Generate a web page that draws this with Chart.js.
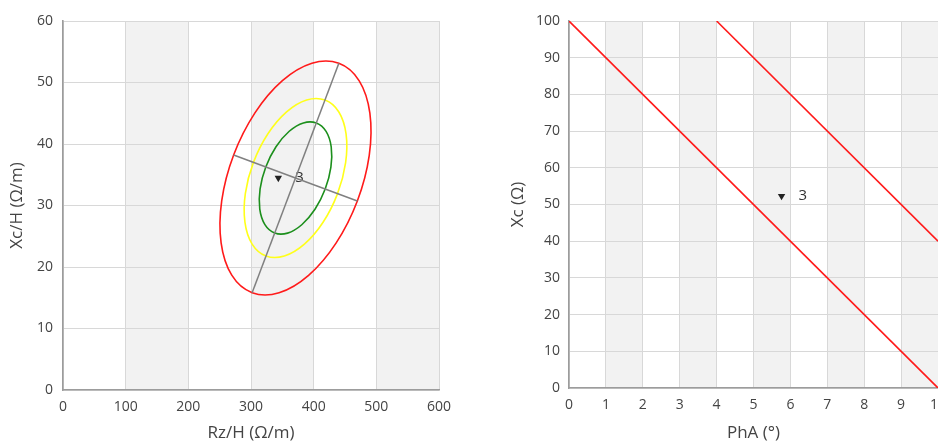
<!DOCTYPE html>
<html>
<head>
<meta charset="utf-8">
<script src="https://cdn.jsdelivr.net/npm/chart.js@4.4.1/dist/chart.umd.min.js"></script>
<style>
html, body { margin: 0; padding: 0; background: #fff; overflow: hidden; width: 938px; height: 443px; }
#w1 { position: absolute; left: 0; top: 0; width: 470px; height: 443px; }
#w2 { position: absolute; left: 470px; top: 0; width: 500px; height: 443px; }
</style>
</head>
<body>
<div id="w1"><canvas id="c1"></canvas></div>
<div id="w2"><canvas id="c2"></canvas></div>
<script>
// --- left chart: tolerance ellipses (closed loops) ---
const ell95 = [[440.2,53.12],[472.7,50.27],[489.7,45.01],[488.7,38.15],[469.7,30.73],[435.7,23.88],[391.9,18.64],[344.8,15.81],
               [301.8,15.82],[269.3,18.67],[252.3,23.93],[253.3,30.79],[272.3,38.21],[306.3,45.06],[350.1,50.30],[397.2,53.13]];
const ell75 = [[418.1,47.15],[440.2,45.21],[451.7,41.64],[451.0,36.97],[438.1,31.93],[415.0,27.27],[385.2,23.71],[353.2,21.78],
               [323.9,21.79],[301.8,23.73],[290.3,27.30],[291.0,31.97],[303.9,37.01],[327.0,41.67],[356.8,45.23],[388.8,47.16]];
const ell50 = [[404.2,43.42],[419.8,42.05],[428.0,39.53],[427.5,36.24],[418.4,32.67],[402.1,29.39],[381.0,26.87],[358.4,25.51],
               [337.8,25.52],[322.2,26.89],[314.0,29.41],[314.5,32.70],[323.6,36.27],[339.9,39.55],[361.0,42.07],[383.6,43.43]];
const majorAxis = [[301.8,15.82],[440.2,53.12]];
const minorAxis = [[272.3,38.21],[469.7,30.73]];
const point1 = [[343.6,34.5]];
const label1 = "3";
const bands1 = [[100,200],[300,400],[500,600]];

// --- right chart: PhA vs Xc ---
const lineLow = [[0,100],[10,0]];
const lineHigh = [[4,100],[10,40]];
const point2 = [[5.76,52.3]];
const label2 = "3";
const bands2 = [[1,2],[3,4],[5,6],[7,8],[9,10]];

const FONT = "'Open Sans', 'Noto Sans', sans-serif";
Chart.defaults.font.family = FONT;
Chart.defaults.color = '#444';

const xy = a => a.map(p => ({x: p[0], y: p[1]}));

const bandPlugin = {
    id: 'bands',
    beforeDraw(chart, args, opts) {
        const a = chart.chartArea, x = chart.scales.x, c = chart.ctx;
        c.save();
        c.fillStyle = '#f2f2f2';
        opts.list.forEach(b => {
            const x0 = x.getPixelForValue(b[0]), x1 = x.getPixelForValue(b[1]);
            c.fillRect(x0, a.top, x1 - x0, a.bottom - a.top);
        });
        c.restore();
    }
};

// close the ellipse lines (same flags the radar controller uses)
const loopPlugin = {
    id: 'loop',
    afterDatasetsUpdate(chart) {
        chart.data.datasets.forEach((d, i) => {
            if (!d.closed) return;
            const l = chart.getDatasetMeta(i).dataset;
            if (!l) return;
            l._loop = true;
            l._fullLoop = true;
            delete l._segments;
            delete l._path;
            l._pointsUpdated = false;
        });
    }
};

const labelPlugin = {
    id: 'ptlabel',
    beforeDatasetsDraw(chart, args, opts) {
        const c = chart.ctx;
        const px = chart.scales.x.getPixelForValue(opts.at[0]);
        const py = chart.scales.y.getPixelForValue(opts.at[1]);
        c.save();
        c.font = '15px ' + FONT;
        c.fillStyle = '#333';
        c.textAlign = 'left';
        c.textBaseline = 'middle';
        c.fillText(opts.text, px + 17, py);
        c.restore();
    }
};

function line(data, color, w) {
    return { data: xy(data), showLine: true, borderColor: color, borderWidth: w, pointRadius: 0, fill: false, tension: 0 };
}
function curve(data, color) {
    return { data: xy(data), showLine: true, closed: true, borderColor: color, borderWidth: 1.6, pointRadius: 0, fill: false, tension: 0.36 };
}
function marker(data) {
    return { data: xy(data), pointStyle: 'triangle', rotation: 180, pointRadius: 4.3, backgroundColor: '#222', borderColor: '#222', borderWidth: 0 };
}

function axis(min, max, step, title, yW, xH, tp, tPad, isY) {
    return {
        type: 'linear', min: min, max: max,
        ticks: { stepSize: step, padding: tPad, font: { size: 14 }, color: '#444' },
        grid: { color: '#d8d8d8', lineWidth: 1, drawTicks: false },
        border: { color: '#9c9c9c', width: 1.6 },
        title: { display: true, text: title, font: { size: 17 }, color: '#444', padding: tp },
        afterFit: s => { if (isY) s.width = yW; else s.height = xH; }
    };
}

function makeChart(id, datasets, xs, ys, pad, bands, lbl) {
    return new Chart(document.getElementById(id), {
        type: 'scatter',
        data: { datasets: datasets },
        options: {
            responsive: true,
            maintainAspectRatio: false,
            animation: false,
            layout: { padding: pad },
            plugins: { legend: { display: false }, tooltip: { enabled: false }, bands: { list: bands }, ptlabel: lbl },
            scales: { x: xs, y: ys }
        },
        plugins: [bandPlugin, loopPlugin, labelPlugin]
    });
}

makeChart('c1',
    [marker(point1), line(majorAxis, '#808080', 1.5), line(minorAxis, '#808080', 1.5),
     curve(ell50, '#1c8f1c'), curve(ell75, '#ffff1a'), curve(ell95, '#ff1a1a')],
    axis(0, 600, 100, 'Rz/H (Ω/m)', 0, 53, { top: 0, bottom: 0 }, 9, false),
    axis(0, 60, 10, 'Xc/H (Ω/m)', 63, 0, { top: 7, bottom: 0 }, 10, true),
    { top: 21, right: 31, left: 0, bottom: 0 }, bands1, { at: point1[0], text: label1 });

makeChart('c2',
    [marker(point2), line(lineLow, '#ff1a1a', 1.6), line(lineHigh, '#ff1a1a', 1.6)],
    axis(0, 10, 1, 'PhA (°)', 0, 55, { top: 0, bottom: 0 }, 9, false),
    axis(0, 100, 10, 'Xc (Ω)', 99, 0, { top: 38, bottom: 0 }, 9, true),
    { top: 21, right: 32, left: 0, bottom: 0 }, bands2, { at: point2[0], text: label2 });
</script>
</body>
</html>
